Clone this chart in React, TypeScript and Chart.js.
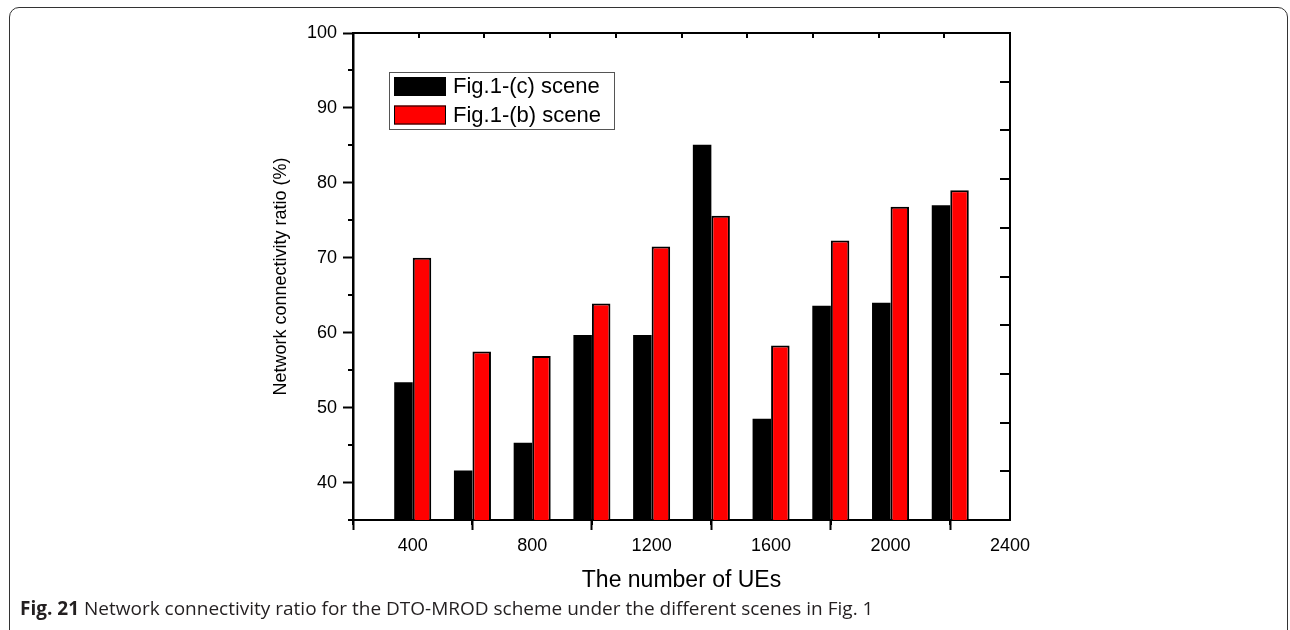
import React, { useEffect, useRef } from "react";
import { Chart, registerables } from "chart.js";

Chart.register(...registerables);

// Number of UEs for each bar group
const ueCounts = [400, 600, 800, 1000, 1200, 1400, 1600, 1800, 2000, 2200];
// Network connectivity ratio (%) per scene
const sceneC = [53.4, 41.6, 45.3, 59.7, 59.7, 85.1, 48.5, 63.6, 64.0, 77.0];
const sceneB = [70.0, 57.5, 56.9, 63.9, 71.5, 75.6, 58.3, 72.3, 76.8, 79.0];
const seriesLabels = ["Fig.1-(c) scene", "Fig.1-(b) scene"];

// Axis ticks
const xTickValues = [400, 800, 1200, 1600, 2000, 2400];
const xMinorTicks = [200, 600, 1000, 1400, 1800, 2200];
const yTickValues = [40, 50, 60, 70, 80, 90, 100];
const yMinorTicks = [35, 45, 55, 65, 75, 85, 95];

const FONT = '"Liberation Sans", Arial, Helvetica, sans-serif';

// Draws the closed frame with its inward ticks, minor ticks and the boxed legend
const framePlugin = {
  id: "frameAndLegend",
  afterDraw(chart: any) {
    const { ctx, chartArea } = chart;
    const { left, right, top, bottom } = chartArea;
    const xs = chart.scales.x;
    const ys = chart.scales.y;
    ctx.save();
    ctx.strokeStyle = "#000";
    ctx.lineWidth = 2;
    ctx.lineCap = "butt";

    // top and right frame lines
    ctx.beginPath();
    ctx.moveTo(left - 1, top);
    ctx.lineTo(right, top);
    ctx.lineTo(right, bottom + 1);
    ctx.stroke();

    // inward ticks on top and right
    const w = right - left;
    const h = bottom - top;
    ctx.beginPath();
    for (let k = 1; k < 10; k++) {
      const x = Math.round(left + (w * k) / 10);
      ctx.moveTo(x, top);
      ctx.lineTo(x, top + 5);
      const y = Math.round(top + (h * k) / 10);
      ctx.moveTo(right, y);
      ctx.lineTo(right - 10, y);
    }
    ctx.stroke();

    // minor outward ticks
    ctx.beginPath();
    xMinorTicks.forEach((v) => {
      const x = Math.round(xs.getPixelForValue(v));
      ctx.moveTo(x, bottom);
      ctx.lineTo(x, bottom + 5);
    });
    yMinorTicks.forEach((v) => {
      const y = Math.round(ys.getPixelForValue(v));
      ctx.moveTo(left, y);
      ctx.lineTo(left - 5, y);
    });
    ctx.stroke();

    // legend box
    const lx = left + 36;
    const ly = top + 39;
    ctx.lineWidth = 1;
    ctx.strokeStyle = "#555";
    ctx.strokeRect(lx + 0.5, ly + 0.5, 225, 57);
    ctx.font = `22px ${FONT}`;
    ctx.textBaseline = "middle";
    ctx.textAlign = "left";
    chart.data.datasets.forEach((ds: any, i: number) => {
      const sy = ly + 5 + i * 28.5;
      ctx.fillStyle = ds.backgroundColor;
      ctx.fillRect(lx + 5, sy, 52, 19);
      ctx.strokeStyle = "#000";
      ctx.strokeRect(lx + 5.5, sy + 0.5, 51, 18);
      ctx.fillStyle = "#000";
      ctx.fillText(ds.label, lx + 64, sy + 10);
    });
    ctx.restore();
  },
};

function ConnectivityChart() {
  const canvasRef = useRef<HTMLCanvasElement | null>(null);

  useEffect(() => {
    if (!canvasRef.current) return;
    const chart = new Chart(canvasRef.current, {
      type: "bar",
      data: {
        datasets: [
          {
            label: seriesLabels[0],
            data: ueCounts.map((x, i) => ({ x, y: sceneC[i] })),
            backgroundColor: "#000000",
            borderColor: "#000000",
            borderWidth: 0,
          },
          {
            label: seriesLabels[1],
            data: ueCounts.map((x, i) => ({ x, y: sceneB[i] })),
            backgroundColor: "#ff0000",
            borderColor: "#000000",
            borderWidth: 2,
          },
        ],
      },
      options: {
        animation: false,
        responsive: false,
        devicePixelRatio: 1,
        categoryPercentage: 0.62,
        barPercentage: 1,
        layout: { padding: { left: 260, top: 33, right: 280, bottom: 35 } },
        plugins: {
          legend: { display: false },
          tooltip: { enabled: false },
        },
        scales: {
          x: {
            type: "linear",
            min: 200,
            max: 2400,
            offset: false,
            afterBuildTicks: (s: any) => {
              s.ticks = xTickValues.map((v) => ({ value: v }));
            },
            afterFit: (s: any) => {
              s.height = 75;
            },
            ticks: {
              color: "#000",
              font: { family: FONT, size: 18 },
              padding: 5,
              maxRotation: 0,
              autoSkip: false,
              callback: (v: any) => String(v),
            },
            grid: {
              drawOnChartArea: false,
              tickLength: 10,
              tickWidth: 2,
              tickColor: "#000",
            },
            border: { color: "#000", width: 2 },
            title: {
              display: true,
              text: "The number of UEs",
              color: "#000",
              font: { family: FONT, size: 23 },
              padding: { top: 0, bottom: 1 },
            },
          },
          y: {
            type: "linear",
            min: 35,
            max: 100,
            afterBuildTicks: (s: any) => {
              s.ticks = yTickValues.map((v) => ({ value: v }));
            },
            afterFit: (s: any) => {
              s.width = 93;
            },
            ticks: {
              color: "#000",
              font: { family: FONT, size: 18 },
              padding: 6,
              callback: (v: any) => String(v),
            },
            grid: {
              drawOnChartArea: false,
              tickLength: 10,
              tickWidth: 2,
              tickColor: "#000",
            },
            border: { color: "#000", width: 2.5 },
            title: {
              display: true,
              text: "Network connectivity ratio (%)",
              color: "#000",
              font: { family: FONT, size: 18 },
              padding: { top: 10, bottom: 0 },
            },
          },
        },
      },
      plugins: [framePlugin],
    } as any);
    return () => chart.destroy();
  }, []);

  return (
    <canvas
      ref={canvasRef}
      width={1290}
      height={630}
      style={{ position: "absolute", left: 0, top: 0, display: "block" }}
    />
  );
}

export default function App() {
  return (
    <div
      style={{
        position: "fixed",
        left: 0,
        top: 0,
        width: 1290,
        height: 630,
        overflow: "hidden",
        background: "#fff",
      }}
    >
      <div
        style={{
          position: "absolute",
          left: 9,
          top: 7,
          width: 1279,
          height: 640,
          border: "1.5px solid #333",
          borderRadius: 10,
          boxSizing: "border-box",
        }}
      />
      <ConnectivityChart />
      <div
        style={{
          position: "absolute",
          left: 20,
          top: 597,
          fontFamily: '"Open Sans", "Noto Sans", sans-serif',
          fontSize: 19,
          lineHeight: "23px",
          color: "#231f20",
          whiteSpace: "nowrap",
        }}
      >
        <b>Fig. 21</b> Network connectivity ratio for the DTO-MROD scheme under the different scenes in Fig. 1
      </div>
    </div>
  );
}
